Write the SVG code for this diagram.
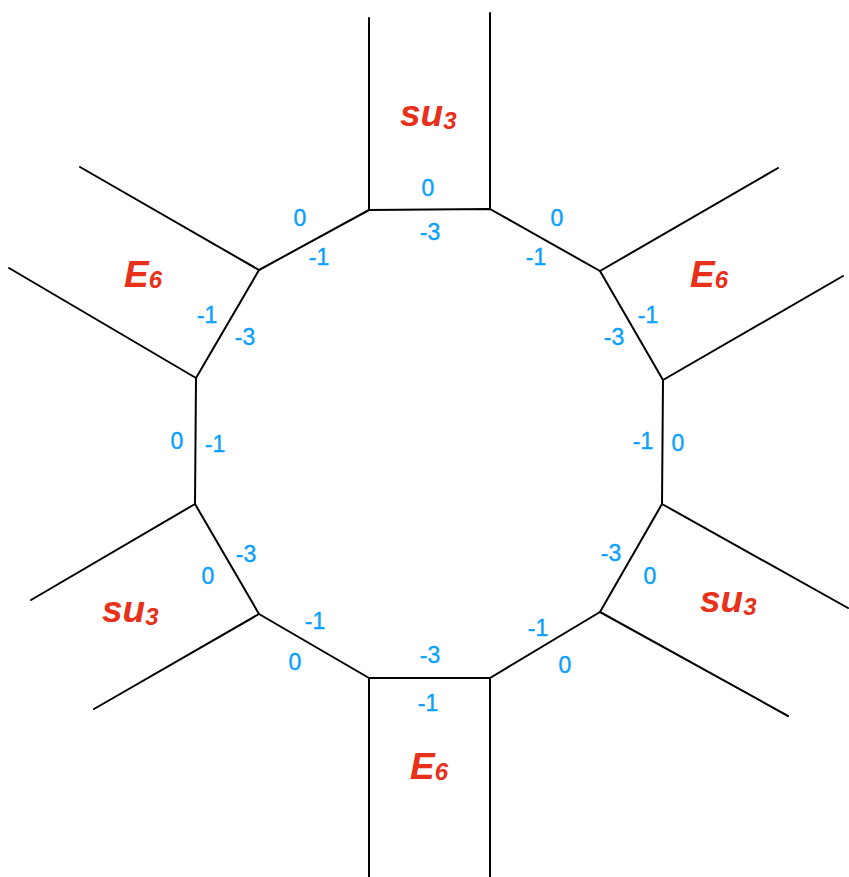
<svg xmlns="http://www.w3.org/2000/svg" width="849" height="877" viewBox="0 0 849 877">
<style>
.e{stroke:#000;stroke-width:2;fill:none;stroke-linecap:round;stroke-linejoin:round}
.n{font-family:"Liberation Sans",Arial,sans-serif;font-size:23px;fill:#0aa0ff;stroke:#0aa0ff;stroke-width:0.4;text-anchor:middle}
.r{font-family:"Liberation Sans",Arial,sans-serif;font-size:37px;font-weight:bold;font-style:italic;fill:#e8311a}
.s{font-size:24px}
</style>
<rect width="849" height="877" fill="#fff"/>
<g id="connectors">
<polygon class="e" points="369,210 490,209 600,271 663,380 662,504 600,612 490,678 369,678 259,614 195,504 196,378 259,270"/>
<line class="e" x1="369" y1="210" x2="369" y2="18"/>
<line class="e" x1="490" y1="209" x2="490" y2="13"/>
<line class="e" x1="600" y1="271" x2="778" y2="168"/>
<line class="e" x1="663" y1="380" x2="843" y2="276"/>
<line class="e" x1="662" y1="504" x2="848" y2="608"/>
<line class="e" x1="600" y1="612" x2="788" y2="716"/>
<line class="e" x1="490" y1="678" x2="490" y2="877"/>
<line class="e" x1="369" y1="678" x2="369" y2="877"/>
<line class="e" x1="259" y1="614" x2="94" y2="709"/>
<line class="e" x1="195" y1="504" x2="31" y2="600"/>
<line class="e" x1="196" y1="378" x2="9" y2="268"/>
<line class="e" x1="259" y1="270" x2="80" y2="167"/>
</g>
<g id="numbers">
<text class="n" x="428" y="196">0</text>
<text class="n" x="430" y="240">-3</text>
<text class="n" x="300" y="226">0</text>
<text class="n" x="319" y="265">-1</text>
<text class="n" x="557" y="226">0</text>
<text class="n" x="536" y="265">-1</text>
<text class="n" x="207" y="323">-1</text>
<text class="n" x="245" y="345">-3</text>
<text class="n" x="648" y="323">-1</text>
<text class="n" x="614" y="345">-3</text>
<text class="n" x="177" y="449">0</text>
<text class="n" x="215" y="452">-1</text>
<text class="n" x="643" y="449">-1</text>
<text class="n" x="678" y="451">0</text>
<text class="n" x="246" y="562">-3</text>
<text class="n" x="208" y="584">0</text>
<text class="n" x="611" y="561">-3</text>
<text class="n" x="650" y="584">0</text>
<text class="n" x="315" y="629">-1</text>
<text class="n" x="295" y="670">0</text>
<text class="n" x="538" y="636">-1</text>
<text class="n" x="565" y="673">0</text>
<text class="n" x="430" y="663">-3</text>
<text class="n" x="428" y="711">-1</text>
</g>
<g id="su3-top"><text class="r" x="400" y="126">su<tspan class="s" dy="3">3</tspan></text></g>
<g id="E6-upper-left"><text class="r" x="124" y="287">E<tspan class="s" dy="1">6</tspan></text></g>
<g id="E6-upper-right"><text class="r" x="690" y="287">E<tspan class="s" dy="1">6</tspan></text></g>
<g id="su3-lower-left"><text class="r" x="102" y="622">su<tspan class="s" dy="3">3</tspan></text></g>
<g id="su3-lower-right"><text class="r" x="700" y="612">su<tspan class="s" dy="3">3</tspan></text></g>
<g id="E6-bottom"><text class="r" x="410" y="779">E<tspan class="s" dy="1">6</tspan></text></g>
</svg>
